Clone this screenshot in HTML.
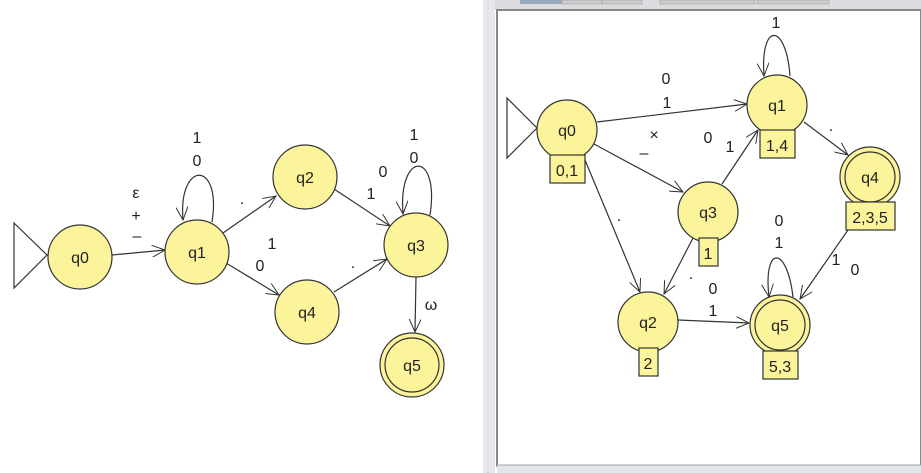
<!DOCTYPE html>
<html><head><meta charset="utf-8"><style>
body{margin:0;width:921px;height:473px;overflow:hidden;background:#fff;}
svg{display:block;font-family:"Liberation Sans",Arial,sans-serif;}
</style></head><body>
<svg width="921" height="473" viewBox="0 0 921 473" xmlns="http://www.w3.org/2000/svg">
<defs>
<marker id="a" markerWidth="14" markerHeight="12" refX="13" refY="6" orient="auto" markerUnits="userSpaceOnUse">
<path d="M0,0 L13,6 L0,12" fill="none" stroke="#333" stroke-width="1"/></marker>
</defs>
<rect x="483" y="0" width="12" height="473" fill="#e8e8ec"/>
<line x1="488" y1="0" x2="488" y2="473" stroke="#b0b0b8" stroke-dasharray="1,3"/>
<rect x="495" y="0" width="426" height="10" fill="#dcdce0"/>
<rect x="520" y="0" width="42" height="4" fill="#9ab"/>
<rect x="562" y="0" width="40" height="4" fill="#ccc" stroke="#999" stroke-width="0.5"/>
<rect x="602" y="0" width="40" height="4" fill="#ccc" stroke="#999" stroke-width="0.5"/>
<rect x="660" y="0" width="95" height="4" fill="#ccc" stroke="#999" stroke-width="0.5"/>
<rect x="757" y="0" width="72" height="4" fill="#ccc" stroke="#999" stroke-width="0.5"/>
<rect x="497" y="10" width="424" height="456" fill="#fff" stroke="#888" stroke-width="2"/>
<rect x="497" y="465" width="424" height="8" fill="#e4e6ea"/>
<line x1="497" y1="465" x2="921" y2="465" stroke="#9aa"/>

<g stroke="#333" stroke-width="1.2" fill="none">
<path d="M14,223 L47,255 L14,288 Z"/>
<line x1="112" y1="255" x2="165" y2="250" marker-end="url(#a)"/>
<path d="M212,222 C222,160 178,160 183,220" marker-end="url(#a)"/>
<line x1="223" y1="233" x2="276" y2="196" marker-end="url(#a)"/>
<line x1="226" y1="263" x2="279" y2="295" marker-end="url(#a)"/>
<line x1="334" y1="189" x2="390" y2="226" marker-end="url(#a)"/>
<line x1="334" y1="292" x2="387" y2="259" marker-end="url(#a)"/>
<path d="M430,215 C440,150 398,150 403,214" marker-end="url(#a)"/>
<line x1="416" y1="277" x2="415" y2="332" marker-end="url(#a)"/>
<path d="M507,98 L537,128 L507,158 Z"/>
<line x1="597" y1="122" x2="747" y2="104" marker-end="url(#a)"/>
<line x1="594" y1="144" x2="683" y2="192" marker-end="url(#a)"/>
<line x1="585" y1="160" x2="640" y2="292" marker-end="url(#a)"/>
<line x1="722" y1="184" x2="758" y2="130" marker-end="url(#a)"/>
<line x1="693" y1="238" x2="664" y2="294" marker-end="url(#a)"/>
<path d="M790,76 C786,22 760,22 764,76" marker-end="url(#a)"/>
<line x1="804" y1="122" x2="848" y2="155" marker-end="url(#a)"/>
<line x1="848" y1="230" x2="800" y2="299" marker-end="url(#a)"/>
<line x1="678" y1="320" x2="749" y2="323" marker-end="url(#a)"/>
<path d="M793,297 C787,245 763,245 769,297" marker-end="url(#a)"/>
</g>
<g fill="#fcf49a" stroke="#333" stroke-width="1.2">
<circle cx="80" cy="257" r="32"/>
<circle cx="197" cy="252" r="32"/>
<circle cx="305" cy="177" r="32"/>
<circle cx="307" cy="312" r="32"/>
<circle cx="416" cy="245" r="32"/>
<circle cx="412" cy="365" r="32"/><circle cx="412" cy="365" r="27"/>
<circle cx="567" cy="130" r="30"/>
<circle cx="777" cy="105" r="30"/>
<circle cx="870" cy="177" r="30"/><circle cx="870" cy="177" r="25"/>
<circle cx="708" cy="212" r="30"/>
<circle cx="648" cy="322" r="30"/>
<circle cx="780" cy="325" r="30"/><circle cx="780" cy="325" r="25"/>
<rect x="550" y="155" width="35" height="28"/>
<rect x="760" y="130" width="35" height="28"/>
<rect x="846" y="202" width="49" height="28"/>
<rect x="699" y="238" width="19" height="28"/>
<rect x="639" y="348" width="19" height="28"/>
<rect x="763" y="351" width="35" height="28"/>
</g>
<g font-size="16" fill="#222" text-anchor="middle">
<text x="80" y="263">q0</text><text x="197" y="258">q1</text><text x="305" y="183">q2</text>
<text x="307" y="318">q4</text><text x="416" y="251">q3</text><text x="412" y="371">q5</text>
<text x="567" y="136">q0</text><text x="777" y="111">q1</text><text x="870" y="183">q4</text>
<text x="708" y="218">q3</text><text x="648" y="328">q2</text><text x="780" y="331">q5</text>
<text x="567" y="176">0,1</text><text x="777" y="151">1,4</text><text x="870" y="223">2,3,5</text>
<text x="708" y="259">1</text><text x="648" y="369">2</text><text x="780" y="372">5,3</text>
</g>
<g font-size="16" fill="#222" text-anchor="middle">
<text x="136" y="198">ε</text><text x="136" y="221">+</text><text x="137" y="241">–</text>
<text x="197" y="143">1</text><text x="197" y="166">0</text>
<text x="414" y="140">1</text><text x="414" y="163">0</text>
<text x="242" y="204">.</text>
<text x="272" y="249">1</text><text x="260" y="271">0</text>
<text x="383" y="177">0</text><text x="371" y="199">1</text>
<text x="353" y="268">.</text>
<text x="431" y="310">ω</text>
<text x="666" y="84">0</text><text x="667" y="108">1</text>
<text x="654" y="140">×</text><text x="644" y="158">–</text>
<text x="708" y="143">0</text><text x="730" y="152">1</text>
<text x="619" y="221">.</text>
<text x="691" y="279">.</text>
<text x="776" y="28">1</text>
<text x="831" y="131">.</text>
<text x="713" y="294">0</text><text x="713" y="316">1</text>
<text x="779" y="226">0</text><text x="779" y="248">1</text>
<text x="836" y="265">1</text><text x="855" y="275">0</text>
</g>
</svg>
</body></html>
